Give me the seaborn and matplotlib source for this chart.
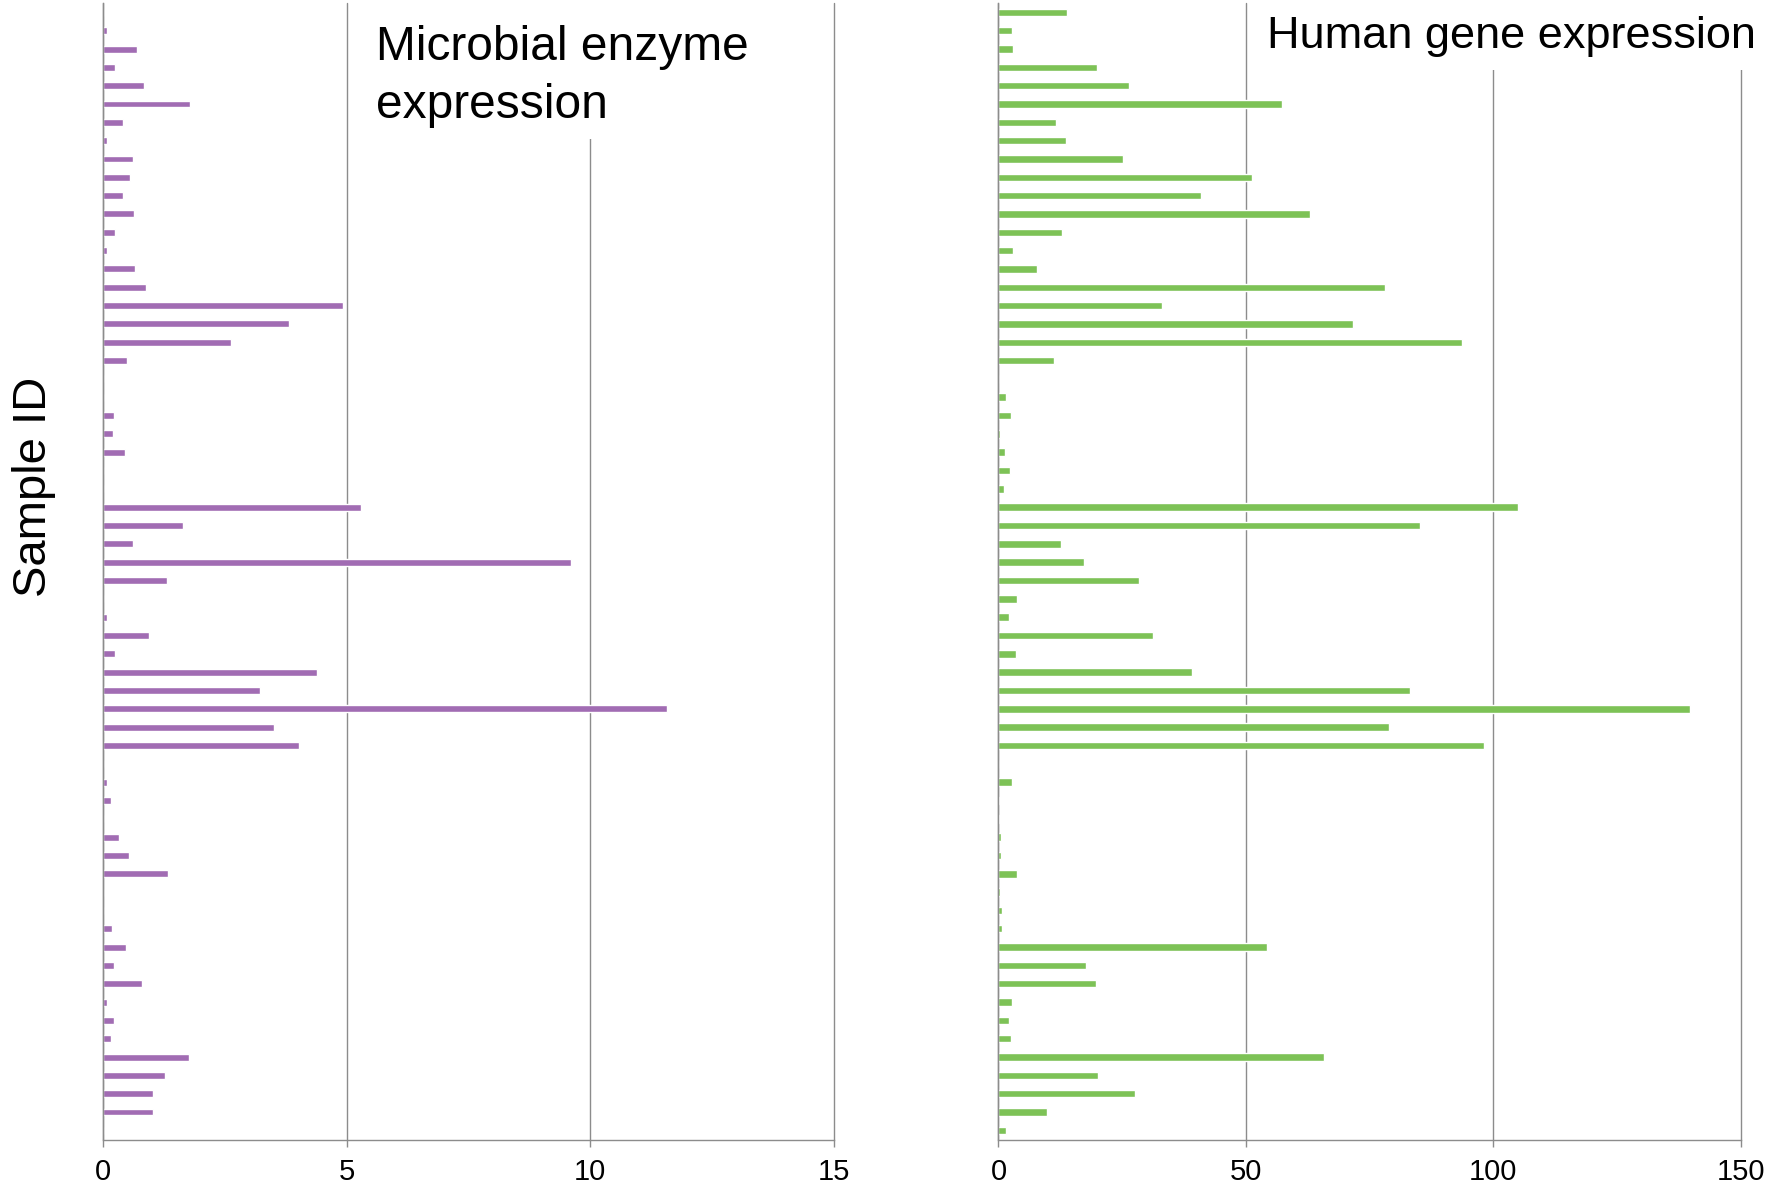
import numpy as np
import pandas as pd
import matplotlib
matplotlib.use('Agg')
import matplotlib.pyplot as plt
import seaborn as sns

# one row per sample, top to bottom as in the figure
sample_ids = [f'S{i + 1:02d}' for i in range(62)]

microbial_enzyme = [0, 0.08, 0.70, 0.24, 0.84, 1.79, 0.40, 0.08, 0.61, 0.55,
                    0.40, 0.63, 0.25, 0.08, 0.65, 0.87, 4.93, 3.82, 2.63, 0.48,
                    0, 0, 0.22, 0.19, 0.44, 0, 0, 5.30, 1.63, 0.60,
                    9.61, 1.31, 0, 0.08, 0.93, 0.24, 4.38, 3.21, 11.58, 3.51,
                    4.01, 0, 0.08, 0.16, 0, 0.33, 0.53, 1.32, 0, 0,
                    0.18, 0.46, 0.21, 0.79, 0.08, 0.21, 0.16, 1.75, 1.27, 1.03,
                    1.03, 0]

human_gene = [13.9, 2.7, 3.0, 20.0, 26.3, 57.4, 11.7, 13.6, 25.1, 51.3,
              40.9, 63.0, 12.8, 2.9, 7.7, 78.1, 33.1, 71.7, 93.7, 11.3,
              0, 1.6, 2.6, 0.3, 1.4, 2.4, 1.1, 105.0, 85.2, 12.7,
              17.2, 28.4, 3.8, 2.2, 31.3, 3.6, 39.1, 83.2, 139.8, 78.9,
              98.1, 0, 2.7, 0.1, 0.1, 0.5, 0.5, 3.7, 0.4, 0.7,
              0.7, 54.3, 17.7, 19.7, 2.8, 2.2, 2.6, 65.7, 20.2, 27.5,
              9.9, 1.5]

microbial_ticks = [0, 5, 10, 15]
human_ticks = [0, 50, 100, 150]

df = pd.DataFrame({'sample': sample_ids,
                   'microbial': microbial_enzyme,
                   'human': human_gene})

sns.set_style('white')
plt.rcParams['font.family'] = ['Liberation Sans', 'DejaVu Sans']
plt.rcParams['text.color'] = 'black'

W, H = 1791, 1185
fig = plt.figure(figsize=(W / 100, H / 100), dpi=100)

grid_col = '#8c8c8c'
ax_bottom = (H - 1139.5) / H
ax_height = (1139.5 - 3.2) / H
ax1 = fig.add_axes([103.3 / W, ax_bottom, (833.8 - 103.3) / W, ax_height])
ax2 = fig.add_axes([998.5 / W, ax_bottom, (1740.6 - 998.5) / W, ax_height])


def style_panel(ax, ticks):
    ax.set_xlim(ticks[0], ticks[-1])
    ax.set_ylim(len(sample_ids) - 0.5, -0.5)
    ax.set_xticks(ticks)
    ax.set_xticklabels([str(t) for t in ticks], fontsize=21)
    ax.set_yticks([])
    ax.set_xlabel('')
    ax.set_ylabel('')
    ax.set_axisbelow(True)
    ax.grid(axis='x', color=grid_col, lw=1.0)
    ax.grid(axis='y', visible=False)
    for line in ax.get_xgridlines():
        line.set_clip_on(False)
    for side in ['top', 'right']:
        ax.spines[side].set_visible(False)
    for side in ['left', 'bottom']:
        ax.spines[side].set_color(grid_col)
        ax.spines[side].set_linewidth(1.0)
    ax.tick_params(axis='x', bottom=True, length=5, width=1.0, color=grid_col,
                   pad=8, labelcolor='black')


sns.barplot(data=df, x='microbial', y='sample', orient='h', color='#a16cb3',
            saturation=1, width=0.38, ax=ax1)
sns.barplot(data=df, x='human', y='sample', orient='h', color='#7dc256',
            saturation=1, width=0.41, ax=ax2)

style_panel(ax1, microbial_ticks)
style_panel(ax2, human_ticks)

# panel titles sit on white boxes that hide the gridlines behind them
fig.patches.append(plt.Rectangle((370 / W, 1 - 139 / H), 400 / W, 139 / H,
                                 transform=fig.transFigure, facecolor='white',
                                 edgecolor='none', zorder=5))
fig.patches.append(plt.Rectangle((1258 / W, 1 - 70 / H), 533 / W, 70 / H,
                                 transform=fig.transFigure, facecolor='white',
                                 edgecolor='none', zorder=5))
fig.text(376 / W, 1 - 25 / H, 'Microbial enzyme\nexpression', fontsize=34.5,
         ha='left', va='top', linespacing=1.38, color='black', zorder=6)
fig.text(1267 / W, 1 - 16 / H, 'Human gene expression', fontsize=32.5,
         ha='left', va='top', color='black', zorder=6)
fig.text(34 / W, 1 - 487 / H, 'Sample ID', fontsize=34, rotation=90,
         ha='center', va='center', color='black')

fig.savefig('out.png', dpi=100)
